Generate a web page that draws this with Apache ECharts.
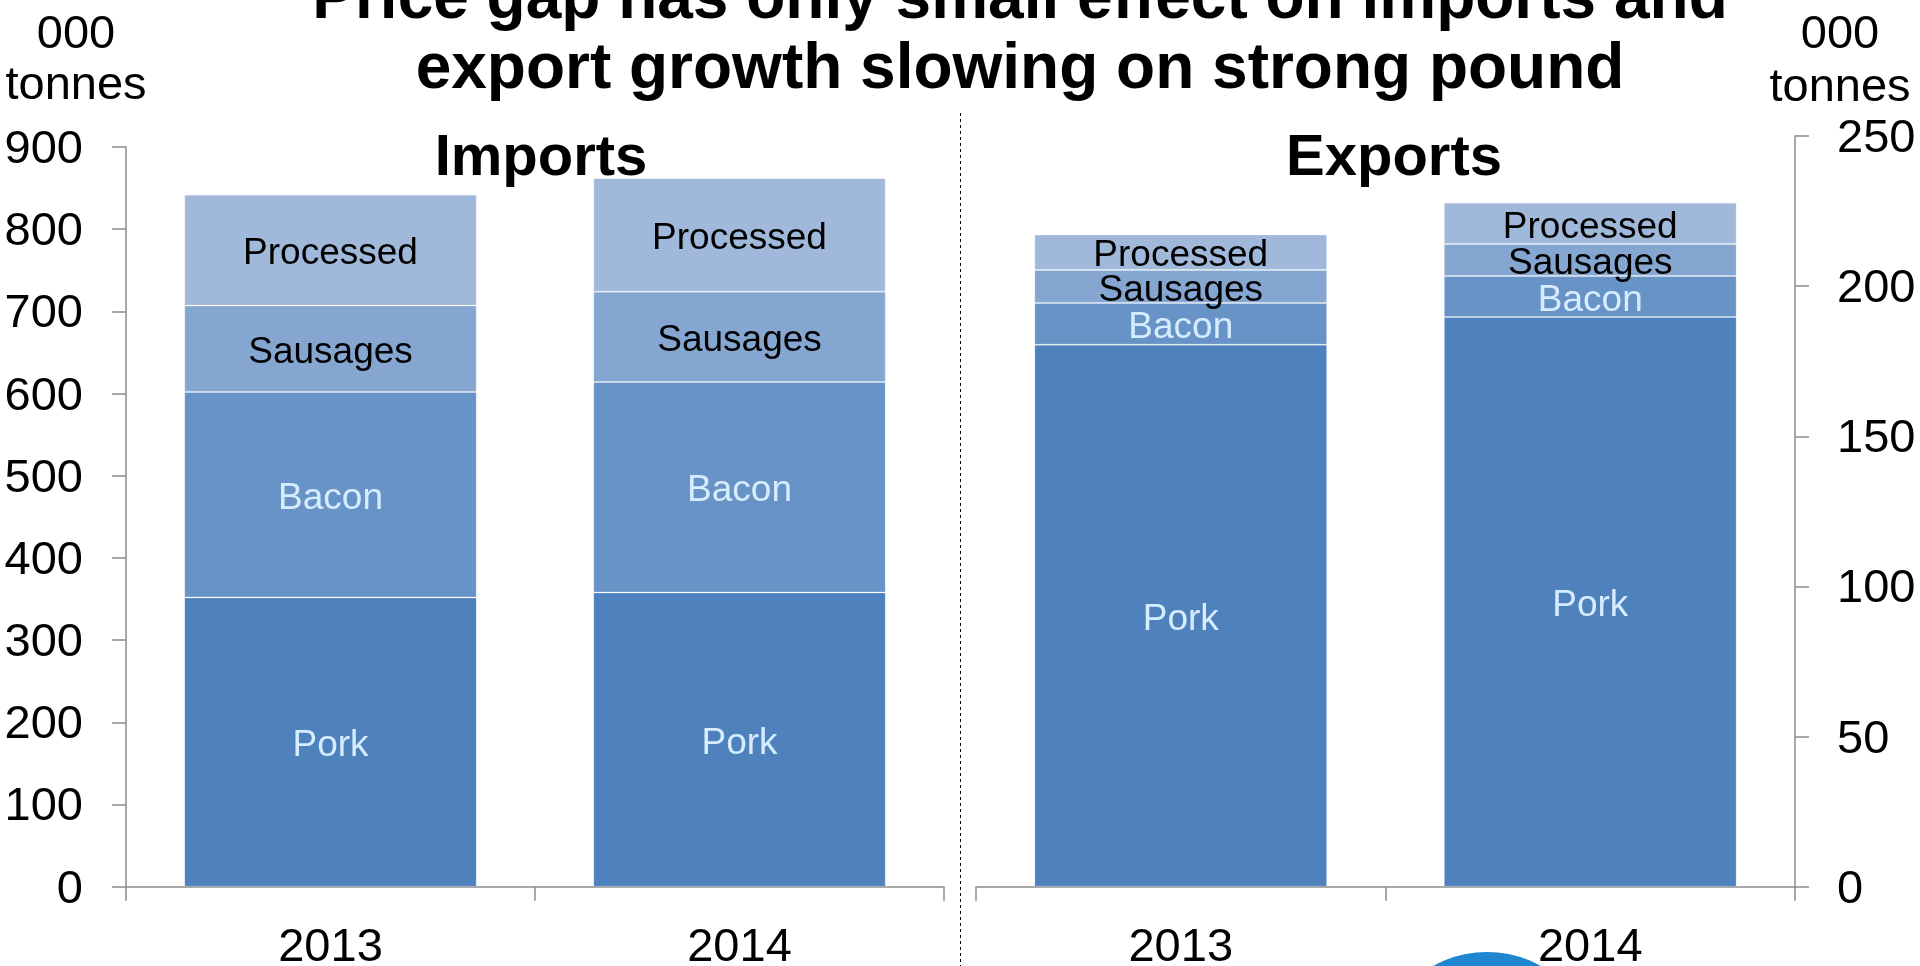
<!DOCTYPE html>
<html>
<head>
<meta charset="utf-8">
<script src="https://cdn.jsdelivr.net/npm/echarts@6/dist/echarts.min.js"></script>
<style>
html,body{margin:0;padding:0;background:#fff;}
#chart{width:1920px;height:966px;}
</style>
</head>
<body>
<div id="chart"></div>
<script>
var titleLines = ['Price gap has only small effect on imports and', 'export growth slowing on strong pound'];
var categories = ['2013', '2014'];
var seriesNames = ['Pork', 'Bacon', 'Sausages', 'Processed'];
var importPork = [352, 358];
var importBacon = [250, 256];
var importSausages = [105, 110];
var importProcessed = [135, 138];
var exportPork = [180.5, 189.7];
var exportBacon = [13.9, 13.7];
var exportSausages = [11, 10.6];
var exportProcessed = [11.8, 13.8];
var leftTicks = {min: 0, max: 900, interval: 100};
var rightTicks = {min: 0, max: 250, interval: 50};

var FONT = '"Liberation Sans", Arial, sans-serif';
var colors = ['#4F81BD', '#6893C7', '#84A6D0', '#A0B9DB'];
var labelColors = ['#D6ECFF', '#D6ECFF', '#000000', '#000000'];
var axisGrey = '#8C8C8C';

function mkSeries(name, data, idx, gridIdx) {
  return {
    name: name,
    type: 'bar',
    stack: gridIdx === 0 ? 'imp' : 'exp',
    xAxisIndex: gridIdx,
    yAxisIndex: gridIdx,
    data: data,
    barCategoryGap: '28.5%',
    itemStyle: {color: colors[idx], borderColor: 'rgba(255,255,255,0.22)', borderWidth: 1},
    label: {
      show: true,
      position: 'inside',
      offset: [0, 4],
      formatter: name,
      fontSize: 37,
      fontFamily: FONT,
      color: labelColors[idx]
    },
    emphasis: {disabled: true},
    animation: false
  };
}

var chart = echarts.init(document.getElementById('chart'));
var axisLine = {show: true, lineStyle: {color: axisGrey, width: 1.5}};
var option = {
  backgroundColor: '#fff',
  animation: false,
  grid: [
    {left: 126, right: 1920 - 944, top: 147, bottom: 966 - 886.7, outerBoundsMode: 'none', containLabel: false},
    {left: 976, right: 1920 - 1795, top: 136, bottom: 966 - 886.7, outerBoundsMode: 'none', containLabel: false}
  ],
  xAxis: [0, 1].map(function (g) {
    return {
      type: 'category',
      gridIndex: g,
      data: categories,
      axisLine: axisLine,
      axisTick: {show: true, length: 14, lineStyle: {color: axisGrey, width: 1.5}},
      axisLabel: {fontSize: 47, fontFamily: FONT, color: '#000', margin: 38}
    };
  }),
  yAxis: [
    {
      type: 'value', gridIndex: 0, position: 'left',
      min: leftTicks.min, max: leftTicks.max, interval: leftTicks.interval,
      axisLine: axisLine,
      axisTick: {show: true, length: 14, lineStyle: {color: axisGrey, width: 1.5}},
      splitLine: {show: false},
      axisLabel: {fontSize: 47, fontFamily: FONT, color: '#000', margin: 43, verticalAlign: 'top', lineHeight: 6}
    },
    {
      type: 'value', gridIndex: 1, position: 'right',
      min: rightTicks.min, max: rightTicks.max, interval: rightTicks.interval,
      axisLine: axisLine,
      axisTick: {show: true, length: 14, lineStyle: {color: axisGrey, width: 1.5}},
      splitLine: {show: false},
      axisLabel: {fontSize: 47, fontFamily: FONT, color: '#000', margin: 42, verticalAlign: 'top', lineHeight: 6}
    }
  ],
  series: [
    mkSeries(seriesNames[0], importPork, 0, 0),
    mkSeries(seriesNames[1], importBacon, 1, 0),
    mkSeries(seriesNames[2], importSausages, 2, 0),
    mkSeries(seriesNames[3], importProcessed, 3, 0),
    mkSeries(seriesNames[0], exportPork, 0, 1),
    mkSeries(seriesNames[1], exportBacon, 1, 1),
    mkSeries(seriesNames[2], exportSausages, 2, 1),
    mkSeries(seriesNames[3], exportProcessed, 3, 1)
  ],
  graphic: [
    {type: 'circle', z: -1, shape: {cx: 1487, cy: 1062, r: 110}, style: {fill: '#1F86CF'}},
    {type: 'line', z: 10, shape: {x1: 960.5, y1: 113, x2: 960.5, y2: 966}, style: {stroke: '#000', lineWidth: 1, lineDash: [3, 3]}},
    {type: 'text', x: 1020, y: 0, style: {text: titleLines[0], fontSize: 64, fontWeight: 'bold', fontFamily: FONT, fill: '#000', align: 'center', verticalAlign: 'middle'}},
    {type: 'text', x: 1020, y: 70, style: {text: titleLines[1], fontSize: 64, fontWeight: 'bold', fontFamily: FONT, fill: '#000', align: 'center', verticalAlign: 'middle'}},
    {type: 'text', x: 541, y: 159, style: {text: 'Imports', fontSize: 58, fontWeight: 'bold', fontFamily: FONT, fill: '#000', align: 'center', verticalAlign: 'middle'}},
    {type: 'text', x: 1394, y: 159, style: {text: 'Exports', fontSize: 58, fontWeight: 'bold', fontFamily: FONT, fill: '#000', align: 'center', verticalAlign: 'middle'}},
    {type: 'text', x: 76, y: 35, style: {text: '000', fontSize: 47, fontFamily: FONT, fill: '#000', align: 'center', verticalAlign: 'middle'}},
    {type: 'text', x: 76, y: 86, style: {text: 'tonnes', fontSize: 47, fontFamily: FONT, fill: '#000', align: 'center', verticalAlign: 'middle'}},
    {type: 'text', x: 1840, y: 35, style: {text: '000', fontSize: 47, fontFamily: FONT, fill: '#000', align: 'center', verticalAlign: 'middle'}},
    {type: 'text', x: 1840, y: 88, style: {text: 'tonnes', fontSize: 47, fontFamily: FONT, fill: '#000', align: 'center', verticalAlign: 'middle'}}
  ]
};
chart.setOption(option);
</script>
</body>
</html>
